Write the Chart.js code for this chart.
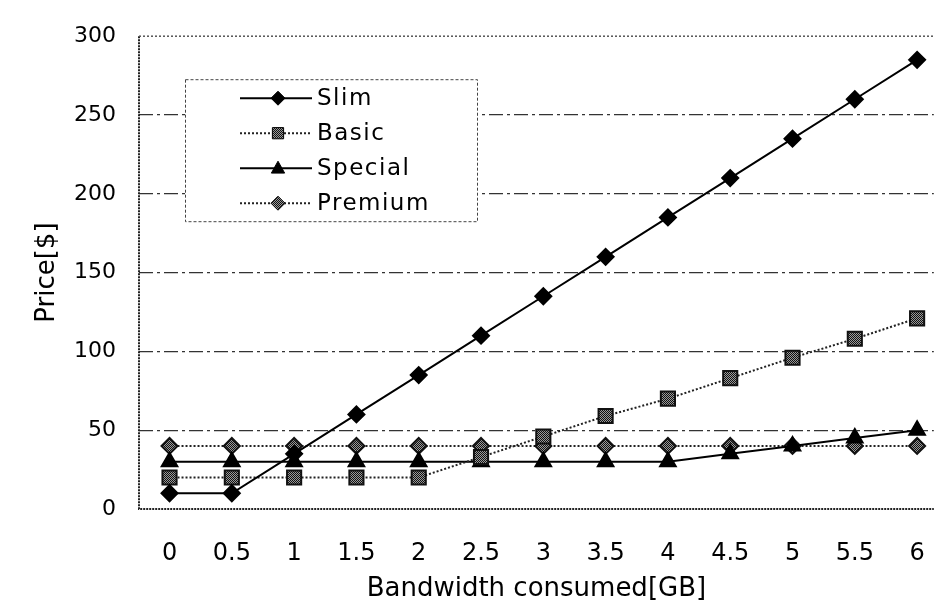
<!DOCTYPE html>
<html>
<head>
<meta charset="utf-8">
<script src="https://cdn.jsdelivr.net/npm/chart.js@4.4.1/dist/chart.umd.min.js"></script>
<style>
  html, body { margin: 0; padding: 0; background: #fff; }
</style>
</head>
<body>
<canvas id="priceChart" width="947" height="605"></canvas>
<script>
// values
const bandwidth = [0, 0.5, 1, 1.5, 2, 2.5, 3, 3.5, 4, 4.5, 5, 5.5, 6];
const slim    = [10, 10, 35, 60, 85, 110, 135, 160, 185, 210, 235, 260, 285];
const basic   = [20, 20, 20, 20, 20, 33, 46, 59, 70, 83, 96, 108, 121];
const special = [30, 30, 30, 30, 30, 30, 30, 30, 30, 35, 40, 45, 50];
const premium = [40, 40, 40, 40, 40, 40, 40, 40, 40, 40, 40, 40, 40];
const seriesNames = ['Slim', 'Basic', 'Special', 'Premium'];
const priceTicks = [0, 50, 100, 150, 200, 250, 300];

const canvas = document.getElementById('priceChart');
const ctx = canvas.getContext('2d');

// halftone fill like the scanned markers
function halftone() {
    const c = document.createElement('canvas');
    c.width = 2; c.height = 2;
    const g = c.getContext('2d');
    g.fillStyle = '#9a9a9a';
    g.fillRect(0, 0, 2, 2);
    g.fillStyle = '#111';
    g.fillRect(0, 0, 1, 1);
    g.fillRect(1, 1, 1, 1);
    return ctx.createPattern(c, 'repeat');
}
const dots = halftone();

const toPoints = ys => bandwidth.map((x, i) => ({ x: x, y: ys[i] }));
const FONT = 'DejaVu Sans';

// dotted frame on left, top and bottom
const frame = {
    id: 'frame',
    beforeDatasetsDraw(chart) {
        const c = chart.ctx, a = chart.chartArea;
        c.save();
        c.strokeStyle = '#222';
        c.lineWidth = 2;
        c.setLineDash([2, 1]);
        c.beginPath();
        c.moveTo(a.left, a.top); c.lineTo(a.left, a.bottom); c.lineTo(a.right, a.bottom);
        c.stroke();
        c.strokeStyle = '#555';
        c.lineWidth = 1.5;
        c.setLineDash([2, 2]);
        c.beginPath();
        c.moveTo(a.left, a.top); c.lineTo(a.right, a.top);
        c.stroke();
        c.restore();
    }
};

function marker(c, style, x, y, r, fill) {
    c.beginPath();
    if (style === 'rectRot') {
        c.moveTo(x, y - r); c.lineTo(x + r, y); c.lineTo(x, y + r); c.lineTo(x - r, y);
    } else if (style === 'triangle') {
        c.moveTo(x, y - r); c.lineTo(x + r * 0.95, y + r * 0.7); c.lineTo(x - r * 0.95, y + r * 0.7);
    } else {
        c.rect(x - r * 0.8, y - r * 0.8, r * 1.6, r * 1.6);
    }
    c.closePath();
    c.setLineDash([]);
    c.fillStyle = fill;
    c.fill();
    c.strokeStyle = '#000';
    c.lineWidth = 1;
    c.stroke();
}

// legend box sitting inside the plot, upper left
const legendBox = {
    id: 'legendBox',
    afterDatasetsDraw(chart) {
        const c = chart.ctx, a = chart.chartArea;
        const left = a.left + 46, top = a.top + 43, w = 292, h = 142;
        c.save();
        c.fillStyle = '#fff';
        c.fillRect(left, top, w, h);
        c.strokeStyle = '#444';
        c.lineWidth = 1;
        c.setLineDash([3, 2]);
        c.strokeRect(left + 0.5, top + 0.5, w, h);
        chart.data.datasets.forEach((ds, i) => {
            const y = top + 19 + i * 35;
            c.setLineDash(ds.borderDash || []);
            c.strokeStyle = ds.borderColor;
            c.lineWidth = ds.borderWidth;
            c.beginPath();
            c.moveTo(left + 55, y); c.lineTo(left + 127, y);
            c.stroke();
            marker(c, ds.pointStyle, left + 93, y, 7, ds.pointBackgroundColor);
            c.fillStyle = '#000';
            c.font = '23px "' + FONT + '"';
            c.letterSpacing = '1.5px';
            c.textBaseline = 'middle';
            c.fillText(ds.label, left + 132, y + 1);
        });
        c.restore();
    }
};

new Chart(ctx, {
    type: 'line',
    data: {
        datasets: [
            { label: seriesNames[0], data: toPoints(slim), borderColor: '#000', borderWidth: 2,
              pointStyle: 'rectRot', pointRadius: 8, pointBackgroundColor: '#000', pointBorderColor: '#000' },
            { label: seriesNames[1], data: toPoints(basic), borderColor: '#222', borderWidth: 2, borderDash: [2, 2],
              pointStyle: 'rect', pointRadius: 10, pointBackgroundColor: dots, pointBorderColor: '#111' },
            { label: seriesNames[2], data: toPoints(special), borderColor: '#000', borderWidth: 2,
              pointStyle: 'triangle', pointRadius: 9, pointBackgroundColor: '#000', pointBorderColor: '#000' },
            { label: seriesNames[3], data: toPoints(premium), borderColor: '#222', borderWidth: 2, borderDash: [2, 2],
              pointStyle: 'rectRot', pointRadius: 8, pointBackgroundColor: dots, pointBorderColor: '#111' }
        ]
    },
    options: {
        responsive: false,
        animation: false,
        layout: { padding: { top: 36, right: 0, left: 0, bottom: 0 } },
        plugins: { legend: { display: false }, tooltip: { enabled: false } },
        scales: {
            x: {
                type: 'linear',
                min: -0.245,
                max: 6.134,
                afterBuildTicks: s => { s.ticks = bandwidth.map(v => ({ value: v })); },
                afterFit: s => { s.height = 96; },
                ticks: { autoSkip: false, maxRotation: 0, padding: 22, color: '#000',
                         font: { family: FONT, size: 24 }, callback: v => String(v) },
                grid: { display: false },
                border: { display: false },
                title: { display: true, text: 'Bandwidth consumed[GB]', color: '#000',
                         font: { family: FONT, size: 26 }, padding: { top: 0, bottom: 0 } }
            },
            y: {
                min: 0,
                max: 300,
                afterBuildTicks: s => { s.ticks = priceTicks.map(v => ({ value: v })); },
                afterFit: s => { s.width = 139; },
                ticks: { padding: 23, color: '#000', font: { family: FONT, size: 22 } },
                grid: {
                    drawTicks: false,
                    lineWidth: 1.2,
                    color: c => (c.tick && (c.tick.value === 0 || c.tick.value === 300)) ? 'rgba(0,0,0,0)' : '#333'
                },
                border: { display: false, dash: [14, 4, 3, 4] },
                title: { display: true, text: 'Price[$]', color: '#000',
                         font: { family: FONT, size: 26 }, padding: { top: 32, bottom: 0 } }
            }
        }
    },
    plugins: [frame, legendBox]
});
</script>
</body>
</html>
